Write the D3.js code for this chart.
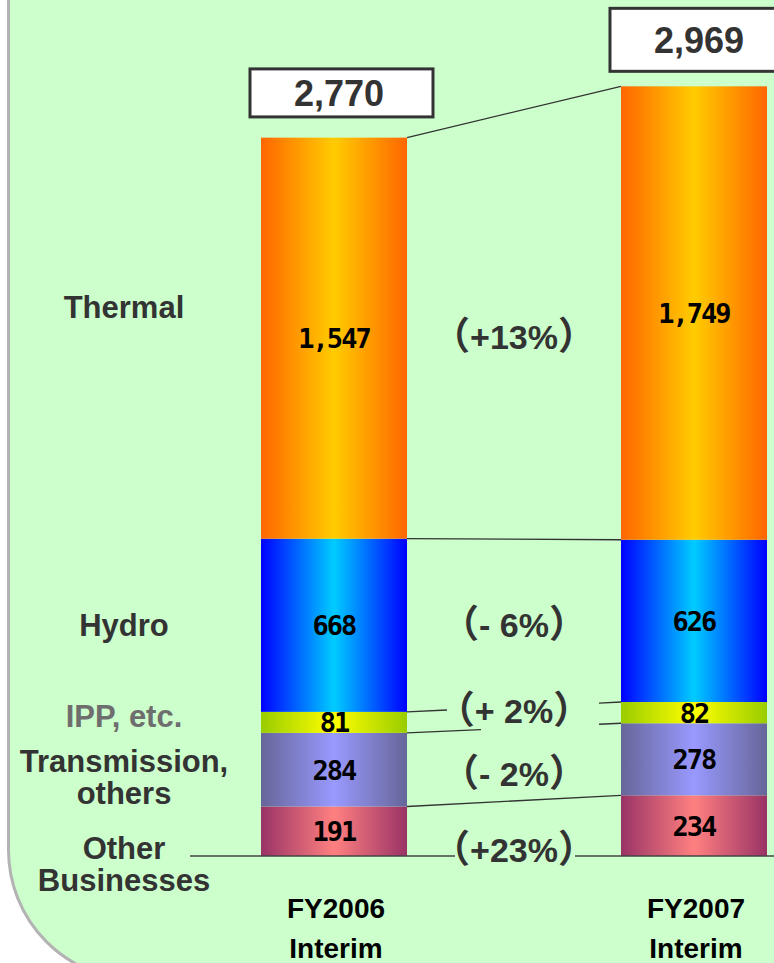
<!DOCTYPE html>
<html>
<head>
<meta charset="utf-8">
<script src="https://cdn.jsdelivr.net/npm/d3@7"></script>
<style>
  html, body { margin: 0; padding: 0; background: #fff; }
  svg { display: block; }
</style>
</head>
<body>
<div class="chart"></div>
<script>
// // Data
const periods = ["FY2006 Interim", "FY2007 Interim"]
const periodLines = [["FY2006", "Interim"], ["FY2007", "Interim"]]
const segments = ["Other Businesses", "Transmission, others", "IPP, etc.", "Hydro", "Thermal"]
const segLines = [["Other", "Businesses"], ["Transmission,", "others"], ["IPP, etc."], ["Hydro"], ["Thermal"]]
const otherBiz = [191, 234]
const transmission = [284, 278]
const ipp = [81, 82]
const hydro = [668, 626]
const thermal = [1547, 1749]
const totals = [2770, 2969]
const changes = ["+23%", "- 2%", "+ 2%", "- 6%", "+13%"]

// gradient colours, edge then centre
const segCols = {
    "Other Businesses": ["#993366", "#ff8080"],
    "Transmission, others": ["#666699", "#9999ff"],
    "IPP, etc.": ["#99cc00", "#ffff00"],
    "Hydro": ["#0000ff", "#00ccff"],
    "Thermal": ["#ff6600", "#ffcc00"]
}

const width = 774
const height = 963

const svg = d3.select('.chart')
    .append('svg')
    .attr('width', width)
    .attr('height', height)

// panel with rounded corner
svg.append('rect')
    .attr('x', 8.5)
    .attr('y', -300)
    .attr('width', 1200)
    .attr('height', 1280)
    .attr('rx', 130)
    .attr('fill', '#ccffcc')
    .attr('stroke', '#b3b3b3')
    .attr('stroke-width', 3)

const x = d3.scaleBand()
    .domain(periods)
    .range([261, 767])
    .paddingInner(0.5944)
    .paddingOuter(0)

const y = d3.scaleLinear()
    .domain([0, 3302])
    .range([856, 0])

const table = periods.map((p, i) => ({
    period: p,
    "Other Businesses": otherBiz[i],
    "Transmission, others": transmission[i],
    "IPP, etc.": ipp[i],
    "Hydro": hydro[i],
    "Thermal": thermal[i]
}))

const series = d3.stack().keys(segments)(table)

const defs = svg.append('defs')
segments.forEach(function (s, k) {
    const g = defs.append('linearGradient')
        .attr('id', 'grad' + k)
        .attr('x1', '0%').attr('x2', '100%')
        .attr('y1', '0%').attr('y2', '0%')
    g.append('stop').attr('offset', '0%').attr('stop-color', segCols[s][0])
    g.append('stop').attr('offset', '50%').attr('stop-color', segCols[s][1])
    g.append('stop').attr('offset', '100%').attr('stop-color', segCols[s][0])
})

const bw = x.bandwidth()
const p0 = periods[0], p1 = periods[1]
const lineCol = '#333'

// connector lines between the bars (gaps where the % labels sit)
const gaps = { 1: [481, 599], 2: [447, 599] }
const lineG = svg.append('g')
series.forEach(function (s, k) {
    const xa = x(p0) + bw, xb = x(p1)
    const ya = y(s[0][1]), yb = y(s[1][1])
    const yAt = function (xx) { return ya + (yb - ya) * (xx - xa) / (xb - xa) }
    const parts = gaps[k] ? [[xa, gaps[k][0]], [gaps[k][1], xb]] : [[xa, xb]]
    parts.forEach(function (pt) {
        lineG.append('line')
            .attr('x1', pt[0]).attr('y1', yAt(pt[0]))
            .attr('x2', pt[1]).attr('y2', yAt(pt[1]))
            .attr('stroke', lineCol)
            .attr('stroke-width', 1.3)
    })
})

// bars
const barG = svg.append('g')
series.forEach(function (s, k) {
    barG.selectAll('.seg' + k)
        .data(s)
        .enter()
        .append('rect')
        .attr('class', 'seg' + k)
        .attr('x', d => x(d.data.period))
        .attr('y', d => y(d[1]))
        .attr('width', bw)
        .attr('height', d => y(d[0]) - y(d[1]))
        .attr('fill', 'url(#grad' + k + ')')
})

// baseline, broken behind the (+23%) label
;[[190, 455], [575, 780]].forEach(function (pt) {
    svg.append('line')
        .attr('x1', pt[0]).attr('x2', pt[1])
        .attr('y1', y(0)).attr('y2', y(0))
        .attr('stroke', '#444')
        .attr('stroke-width', 1.3)
})

// values inside bars
series.forEach(function (s, k) {
    barG.selectAll('.val' + k)
        .data(s)
        .enter()
        .append('text')
        .attr('x', d => x(d.data.period) + bw / 2)
        .attr('y', d => (y(d[0]) + y(d[1])) / 2 + 10)
        .attr('text-anchor', 'middle')
        .style('font-family', '"DejaVu Sans Mono", monospace')
        .style('font-weight', 'bold')
        .style('font-size', '27px')
        .style('letter-spacing', '-2px')
        .attr('fill', '#000')
        .text(d => d3.format(',')(d.data[segments[k]]))
})

// total boxes
const boxH = [48, 63]
const boxGap = [21, 15]
periods.forEach(function (p, i) {
    const bottom = y(totals[i]) - boxGap[i]
    svg.append('rect')
        .attr('x', x(p) - 11)
        .attr('y', bottom - boxH[i])
        .attr('width', 183)
        .attr('height', boxH[i])
        .attr('fill', '#fff')
        .attr('stroke', '#333')
        .attr('stroke-width', 3)
    svg.append('text')
        .attr('x', x(p) + bw / 2 + 5)
        .attr('y', bottom - boxH[i] / 2 + 13)
        .attr('text-anchor', 'middle')
        .style('font-family', '"Liberation Sans", Arial, sans-serif')
        .style('font-weight', 'bold')
        .style('font-size', '36px')
        .attr('fill', '#333')
        .text(d3.format(',')(totals[i]))
})

// left category labels
const labOffset = [33, 7, -6, 0, -31]
series.forEach(function (s, k) {
    const mid = (y(s[0][0]) + y(s[0][1])) / 2 + labOffset[k]
    const lines = segLines[k]
    const t = svg.append('text')
        .attr('text-anchor', 'middle')
        .style('font-family', '"Liberation Sans", Arial, sans-serif')
        .style('font-weight', 'bold')
        .style('font-size', '31px')
        .attr('fill', k === 2 ? '#6e6e6e' : '#333')
    lines.forEach(function (ln, j) {
        t.append('tspan')
            .attr('x', 124)
            .attr('y', mid + (j - (lines.length - 1) / 2) * 32 + 11)
            .text(ln)
    })
})

// change labels between bars, with full-width brackets
const chgOffset = [19, 4, -11, 0, -1]
series.forEach(function (s, k) {
    const mid = (y(s[0][0]) + y(s[0][1])) / 2 + chgOffset[k]
    const t = svg.append('text')
        .attr('x', (x(p0) + bw + x(p1)) / 2)
        .attr('y', mid + 12)
        .attr('text-anchor', 'middle')
        .style('font-family', '"Liberation Sans", Arial, sans-serif')
        .style('font-weight', 'bold')
        .style('font-size', '34px')
        .attr('fill', '#333')
    t.append('tspan')
        .style('font-family', '"Noto Sans CJK JP", sans-serif')
        .style('font-weight', 'bold')
        .style('font-size', '38px')
        .text('（')
    t.append('tspan').text(changes[k])
    t.append('tspan')
        .style('font-family', '"Noto Sans CJK JP", sans-serif')
        .style('font-weight', 'bold')
        .style('font-size', '38px')
        .text('）')
})

// period labels
periods.forEach(function (p, i) {
    const t = svg.append('text')
        .attr('text-anchor', 'middle')
        .style('font-family', '"Liberation Sans", Arial, sans-serif')
        .style('font-weight', 'bold')
        .style('font-size', '28px')
        .attr('fill', '#000')
    periodLines[i].forEach(function (ln, j) {
        t.append('tspan')
            .attr('x', x(p) + bw / 2 + 2)
            .attr('y', 918 + j * 40)
            .text(ln)
    })
})
</script>
</body>
</html>
